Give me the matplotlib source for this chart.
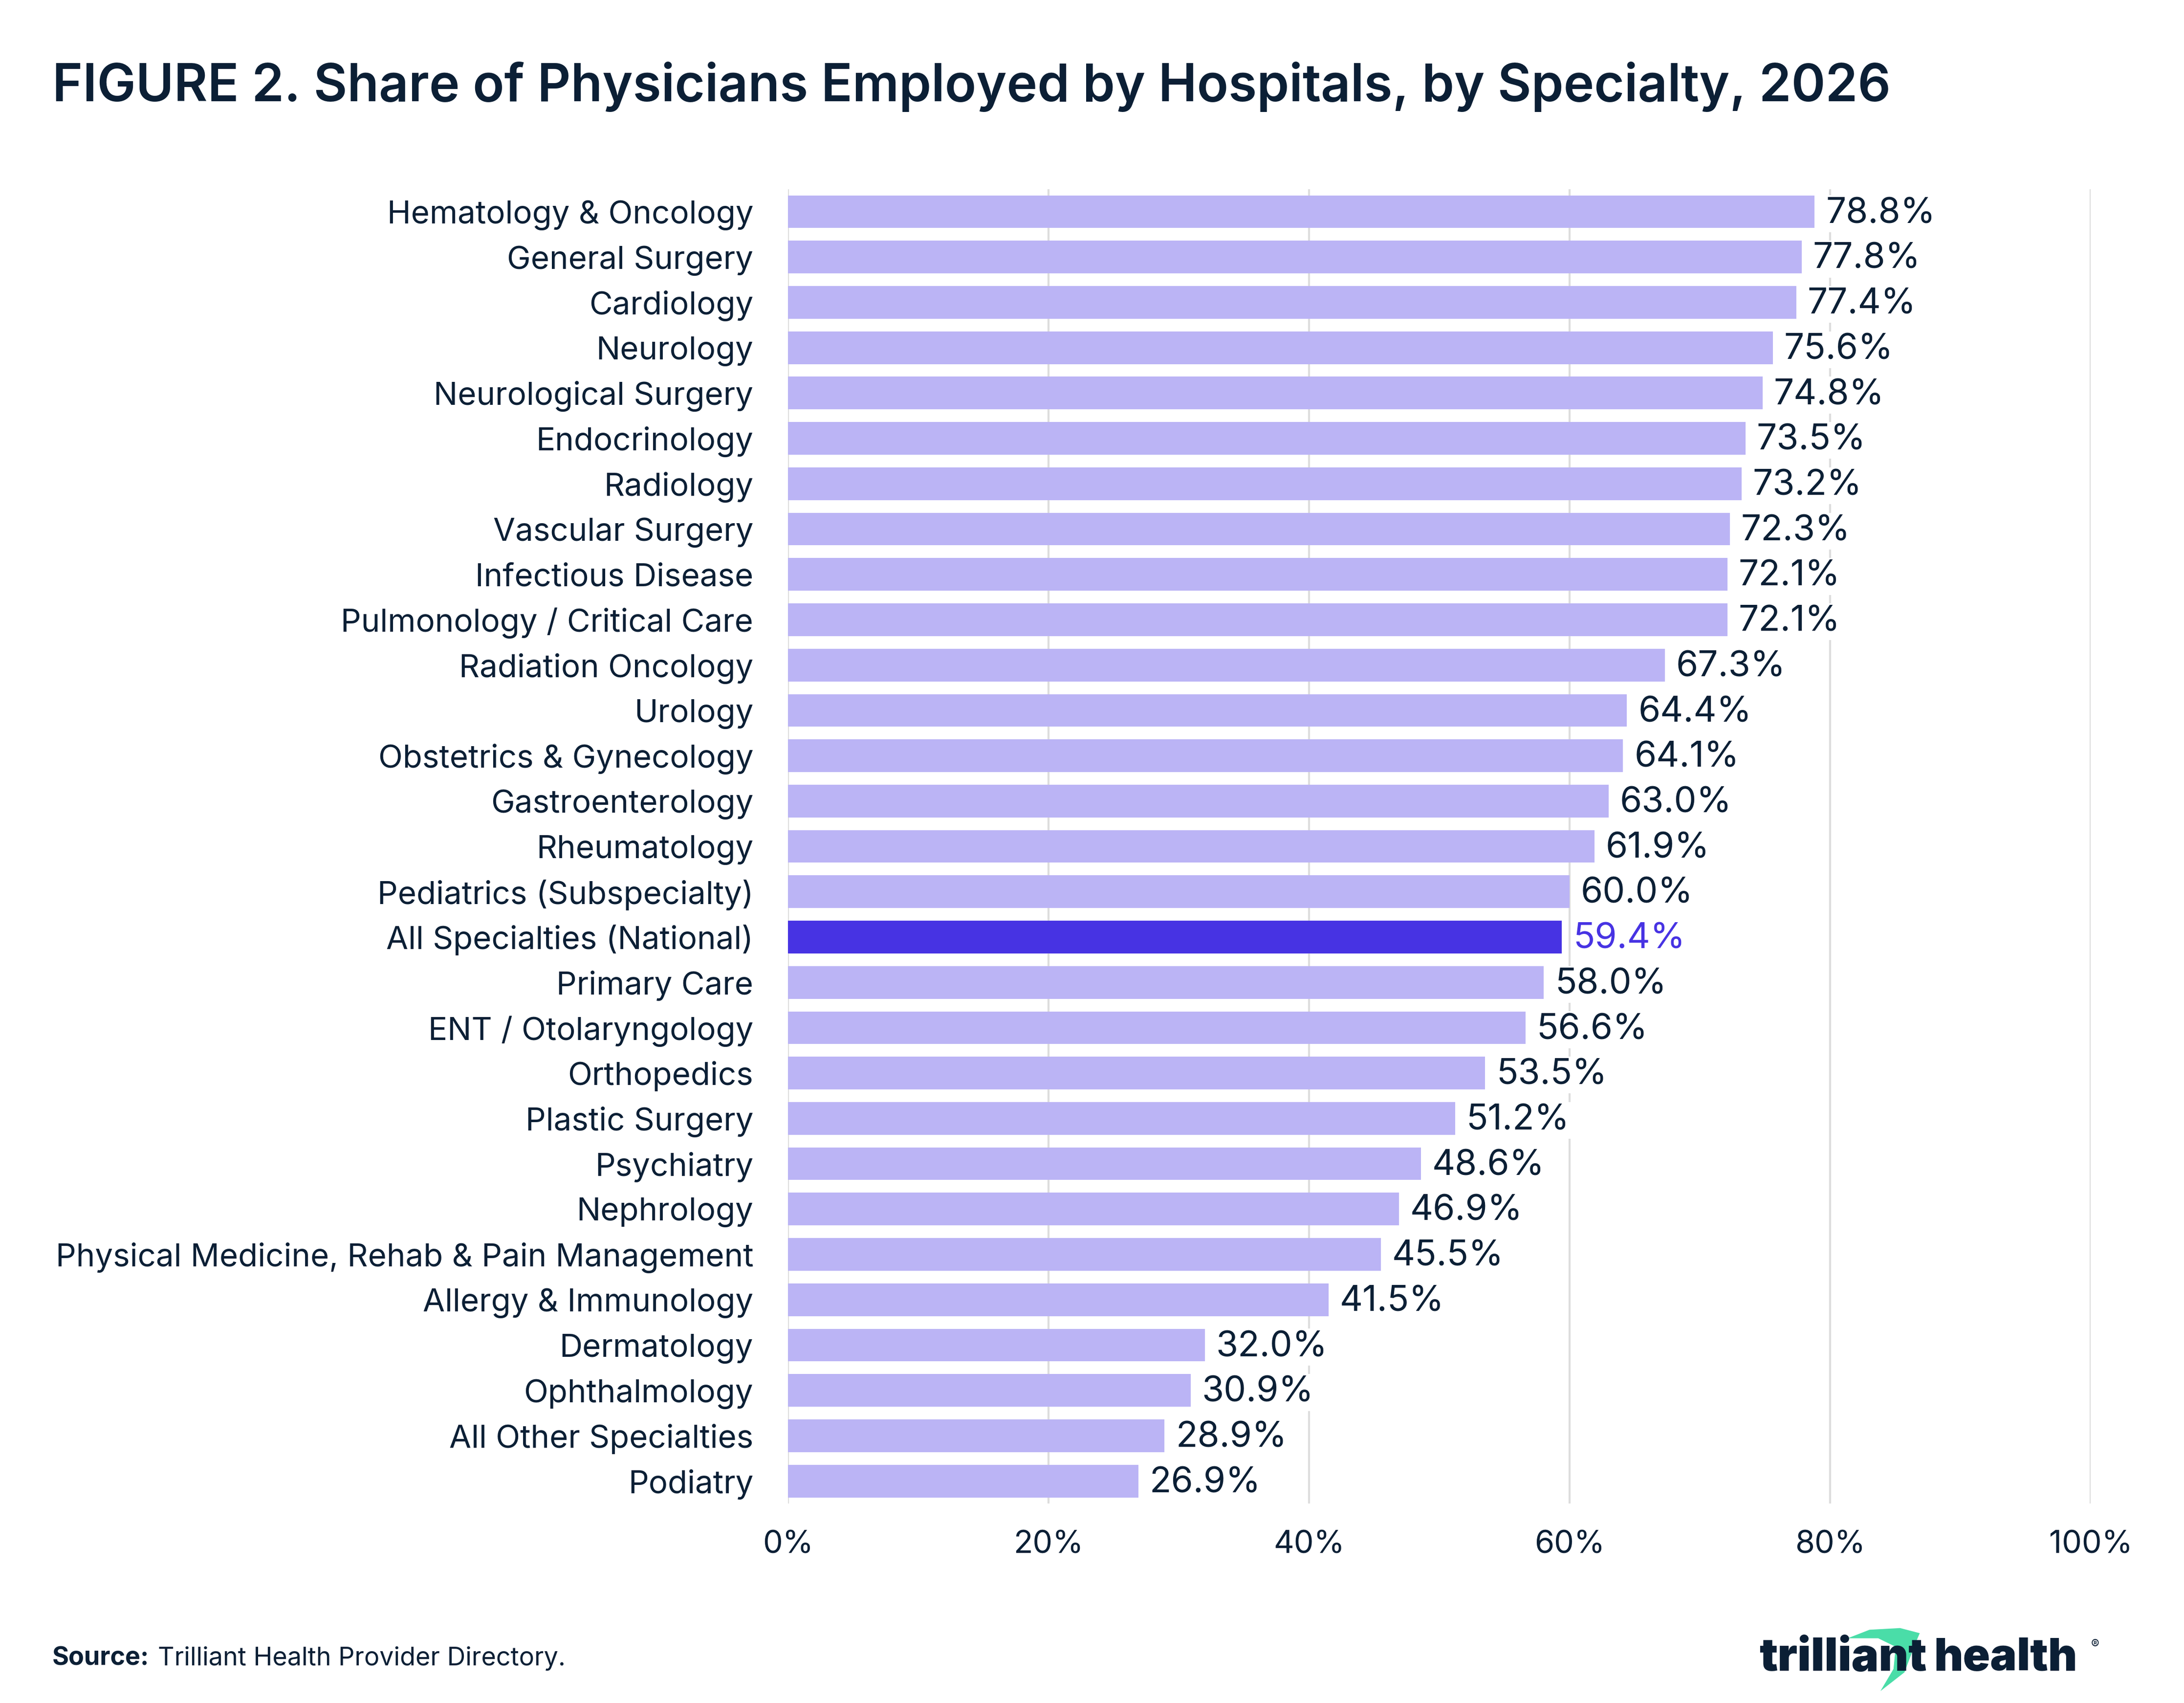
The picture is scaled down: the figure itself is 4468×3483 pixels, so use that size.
import numpy as np
import matplotlib.pyplot as plt
from matplotlib.patches import Polygon

specialties = ["Hematology & Oncology", "General Surgery", "Cardiology", "Neurology",
               "Neurological Surgery", "Endocrinology", "Radiology", "Vascular Surgery",
               "Infectious Disease", "Pulmonology / Critical Care", "Radiation Oncology",
               "Urology", "Obstetrics & Gynecology", "Gastroenterology", "Rheumatology",
               "Pediatrics (Subspecialty)", "All Specialties (National)", "Primary Care",
               "ENT / Otolaryngology", "Orthopedics", "Plastic Surgery", "Psychiatry",
               "Nephrology", "Physical Medicine, Rehab & Pain Management",
               "Allergy & Immunology", "Dermatology", "Ophthalmology",
               "All Other Specialties", "Podiatry"]
share = [78.8, 77.8, 77.4, 75.6, 74.8, 73.5, 73.2, 72.3, 72.1, 72.1, 67.3, 64.4, 64.1,
         63.0, 61.9, 60.0, 59.4, 58.0, 56.6, 53.5, 51.2, 48.6, 46.9, 45.5, 41.5, 32.0,
         30.9, 28.9, 26.9]
highlight = "All Specialties (National)"
xticks = [0, 20, 40, 60, 80, 100]

dark = "#0B1F35"
light_bar = "#BBB4F5"
hi_bar = "#4733E3"

plt.rcParams['font.family'] = ['Inter', 'DejaVu Sans']

fig = plt.figure(figsize=(4468 / 300, 3483 / 300), dpi=300)
ax = fig.add_axes([0.3608, 0.117, 0.5965, 0.772])

y = np.arange(len(specialties))
colors = [hi_bar if s == highlight else light_bar for s in specialties]
ax.barh(y, share, height=0.72, color=colors, zorder=2)

for yi, v, s in zip(y, share, specialties):
    c = hi_bar if s == highlight else dark
    ax.annotate(f"{v:.1f}%", (v, yi), xytext=(5.5, -1), textcoords="offset points",
                va="center", ha="left", fontsize=17.5, color=c, zorder=3,
                bbox=dict(boxstyle="square,pad=0.05", fc="white", ec="none"))

ax.set_ylim(len(specialties) - 0.5, -0.5)
ax.set_xlim(0, 100)
ax.set_yticks(y)
ax.set_yticklabels(specialties, fontsize=15.7, color=dark)
ax.set_xticks(xticks)
ax.set_xticklabels([f"{t}%" for t in xticks], fontsize=15.5, color=dark)
ax.tick_params(axis="both", length=0)
ax.tick_params(axis="y", pad=17)
ax.tick_params(axis="x", pad=13)
ax.grid(axis="x", color="#DDDDDD", linewidth=1.0, zorder=0)
ax.set_axisbelow(True)
for sp in ax.spines.values():
    sp.set_visible(False)

fig.text(0.024, 0.949, "FIGURE 2. Share of Physicians Employed by Hospitals, by Specialty, 2026",
         fontsize=25.4, color=dark, fontweight="semibold", va="center", ha="left")

fig.text(0.024, 0.026, "Source:", fontsize=12.5, color=dark, fontweight="bold",
         va="center", ha="left")
fig.text(0.0724, 0.026, "Trilliant Health Provider Directory.", fontsize=12.5, color=dark,
         va="center", ha="left")

# logo
fig.text(0.8055, 0.026, "trilliant", fontsize=22.5, color=dark, fontweight="black",
         va="center", ha="left")
fig.text(0.8855, 0.026, "health", fontsize=22, color=dark, fontweight="black",
         va="center", ha="left")
fig.text(0.9575, 0.034, "®", fontsize=6, color=dark, va="center", ha="left")
swoosh = Polygon([[0.846, 0.038], [0.856, 0.043], [0.870, 0.044], [0.879, 0.041],
                  [0.877, 0.035], [0.872, 0.018], [0.861, 0.007], [0.867, 0.020],
                  [0.868, 0.033], [0.860, 0.038]],
                 closed=True, transform=fig.transFigure, fc="#4ADDA8", ec="none",
                 zorder=0)
fig.patches.append(swoosh)

fig.savefig("out.png", dpi=300, facecolor="white")
